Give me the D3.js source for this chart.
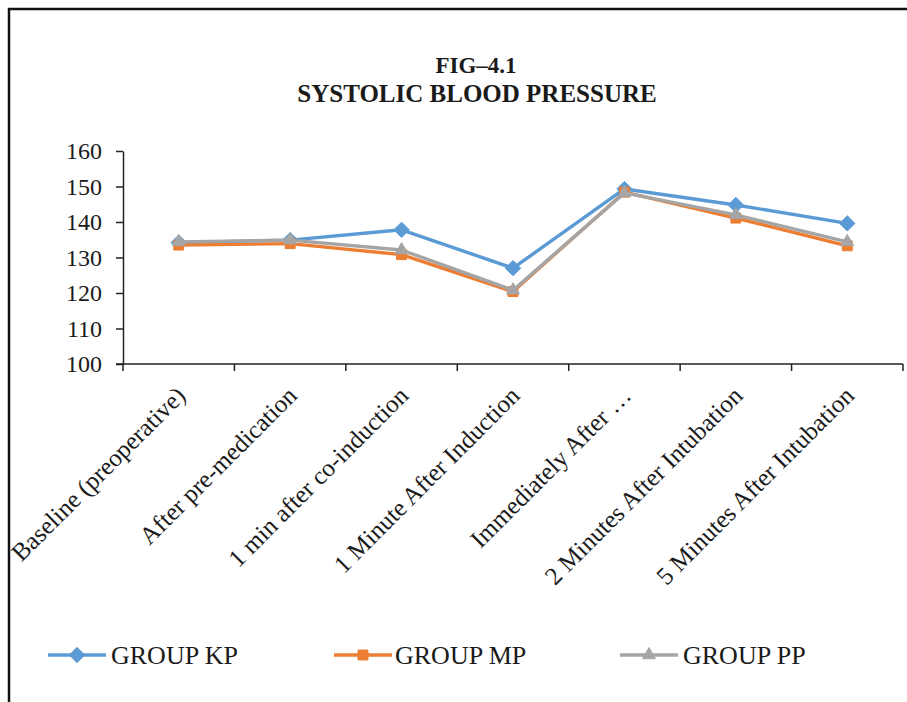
<!DOCTYPE html>
<html>
<head>
<meta charset="utf-8">
<script src="https://cdn.jsdelivr.net/npm/d3@7"></script>
<style>
  html, body { margin: 0; padding: 0; background: #fff; }
  svg { display: block; }
  text { font-family: "Liberation Serif", "Times New Roman", serif; fill: #1a1a1a; }
</style>
</head>
<body>
<svg id="chart" width="907" height="702"></svg>
<script>
// Time points of measurement
const categories = [
  "Baseline (preoperative)",
  "After pre-medication",
  "1 min after co-induction",
  "1 Minute After Induction",
  "Immediately After …",
  "2 Minutes After Intubation",
  "5 Minutes After Intubation"
];

// Mean systolic blood pressure (mmHg) per group
const groupKP = [134.2, 134.9, 137.8, 127.0, 149.3, 144.8, 139.6];
const groupMP = [133.5, 133.9, 130.8, 120.4, 148.4, 141.1, 133.3];
const groupPP = [134.4, 134.9, 132.1, 120.8, 148.2, 142.0, 134.4];

const seriesNames  = ["GROUP KP", "GROUP MP", "GROUP PP"];
const seriesColors = ["#5B9BD5", "#ED7D31", "#A5A5A5"];
const yTicks = [100, 110, 120, 130, 140, 150, 160];

const titleLines = ["FIG\u20134.1", "SYSTOLIC BLOOD PRESSURE"];

const series = [groupKP, groupMP, groupPP].map((values, i) => ({
  name: seriesNames[i], color: seriesColors[i], values
}));

const svg = d3.select("#chart");

// outer frame
svg.append("rect")
  .attr("x", 9).attr("y", 9).attr("width", 920).attr("height", 720)
  .attr("fill", "none").attr("stroke", "#111").attr("stroke-width", 2.5);

const plot = { left: 123, right: 903, top: 151, bottom: 364 };

const x = d3.scaleBand().domain(categories).range([plot.left, plot.right]);
const y = d3.scaleLinear().domain([100, 160]).range([plot.bottom, plot.top]);

// title
svg.append("text")
  .attr("x", 476).attr("y", 73)
  .attr("text-anchor", "middle")
  .attr("font-weight", "bold").attr("font-size", 23)
  .text(titleLines[0]);
svg.append("text")
  .attr("x", 477).attr("y", 102)
  .attr("text-anchor", "middle")
  .attr("font-weight", "bold").attr("font-size", 25)
  .text(titleLines[1]);

// y axis
const yAxis = svg.append("g")
  .attr("transform", `translate(${plot.left},0)`)
  .call(d3.axisLeft(y).tickValues(yTicks).tickSize(7).tickPadding(14).tickSizeOuter(0));
yAxis.select(".domain").attr("stroke", "#222").attr("stroke-width", 1.5);
yAxis.selectAll(".tick line").attr("stroke", "#222").attr("stroke-width", 1.5);
yAxis.selectAll(".tick text")
  .attr("font-family", "Liberation Serif, serif")
  .attr("font-size", 24).attr("fill", "#1a1a1a");

// x axis: boundary ticks between categories
const boundaries = categories.map(c => x(c)).concat([plot.right]);
svg.append("line")
  .attr("x1", plot.left - 7).attr("x2", plot.right)
  .attr("y1", plot.bottom).attr("y2", plot.bottom)
  .attr("stroke", "#222").attr("stroke-width", 1.5);
svg.append("g").selectAll("line")
  .data(boundaries).join("line")
  .attr("x1", d => d).attr("x2", d => d)
  .attr("y1", plot.bottom).attr("y2", plot.bottom + 7)
  .attr("stroke", "#222").attr("stroke-width", 1.5);

// rotated category labels
svg.append("g").selectAll("text")
  .data(categories).join("text")
  .attr("transform", d => `translate(${x(d) + x.bandwidth() / 2 + 2},${plot.bottom + 27}) rotate(-45)`)
  .attr("text-anchor", "end")
  .attr("dy", "0.35em")
  .attr("font-size", 25)
  .text(d => d);

// lines and markers
const line = d3.line()
  .x((d, i) => x(categories[i]) + x.bandwidth() / 2)
  .y(d => y(d));

const symbolTypes = [d3.symbolDiamond2, d3.symbolSquare2, d3.symbolTriangle2];
const symbolSizes = [150, 125, 120];

function marker(g, idx, color) {
  return g.append("path")
    .attr("d", d3.symbol().type(symbolTypes[idx]).size(symbolSizes[idx])())
    .attr("fill", color).attr("stroke", color).attr("stroke-width", 1);
}

series.forEach((s, si) => {
  const g = svg.append("g");
  g.append("path")
    .datum(s.values)
    .attr("fill", "none")
    .attr("stroke", s.color)
    .attr("stroke-width", 3.4)
    .attr("stroke-linejoin", "round")
    .attr("d", line);
  s.values.forEach((v, i) => {
    marker(g, si, s.color)
      .attr("transform", `translate(${x(categories[i]) + x.bandwidth() / 2},${y(v)})`);
  });
});

// legend
const legendItems = [
  { lx: 48, tx: 111 },
  { lx: 334, tx: 395 },
  { lx: 620, tx: 683 }
];
const legendY = 655;
series.forEach((s, si) => {
  const it = legendItems[si];
  const g = svg.append("g");
  g.append("line")
    .attr("x1", it.lx).attr("x2", it.lx + 58)
    .attr("y1", legendY).attr("y2", legendY)
    .attr("stroke", s.color).attr("stroke-width", 3.4);
  marker(g, si, s.color).attr("transform", `translate(${it.lx + 29},${legendY})`);
  g.append("text")
    .attr("x", it.tx).attr("y", legendY)
    .attr("dy", "0.35em")
    .attr("font-size", 26)
    .text(s.name);
});
</script>
</body>
</html>
